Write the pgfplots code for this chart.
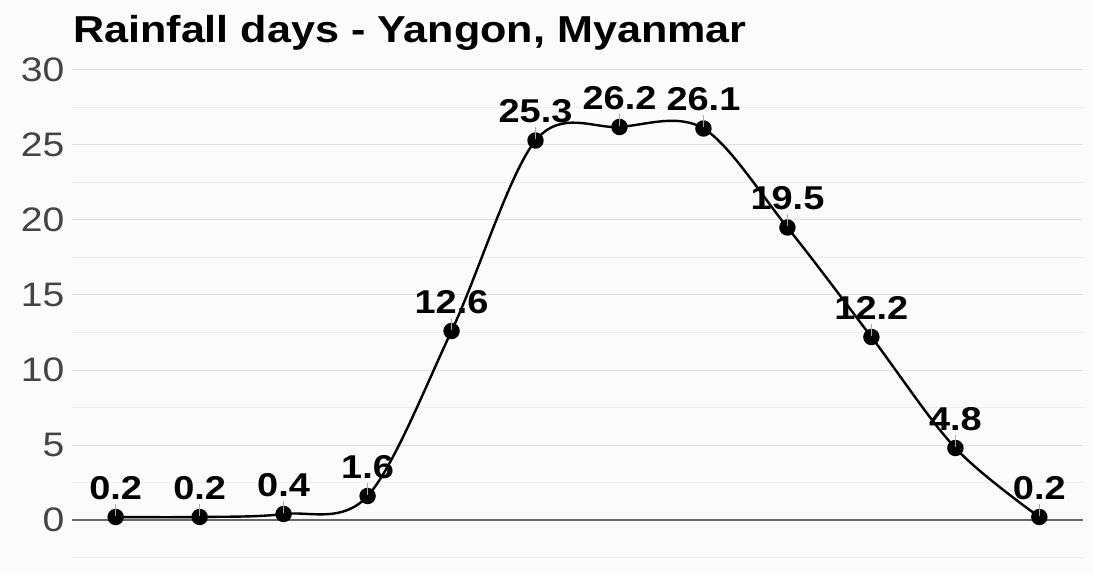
\documentclass[border=0pt]{standalone}
\usepackage{pgfplots}
\pgfplotsset{compat=1.18}
\usepackage{fontspec}
\setmainfont{Liberation Sans}[FakeStretch=1.15]
\definecolor{bgcol}{HTML}{FBFBFB}
\definecolor{majgrid}{HTML}{E2E2E2}
\definecolor{mingrid}{HTML}{EEEEEE}
\definecolor{ticklab}{HTML}{444444}
\definecolor{zeroline}{HTML}{666666}
\definecolor{pointer}{HTML}{AAAAAA}
\begin{document}
\begin{tikzpicture}[x=1pt,y=1pt]
\fill[bgcol] (0,0) rectangle (1093,574);
\node[anchor=base west,inner sep=0pt] at (73,531) {\fontsize{37.5}{37.5}\selectfont\bfseries Rainfall days - Yangon, Myanmar};
\begin{axis}[
  at={(72pt,16.5pt)}, anchor=south west,
  scale only axis, width=1011pt, height=487.5pt,
  xmin=-0.52, xmax=11.52, ymin=-2.5, ymax=30,
  axis line style={draw=none},
  xtick=\empty,
  ytick={0,5,...,30},
  minor ytick={-2.5,2.5,7.5,12.5,17.5,22.5,27.5},
  major tick length=0pt, minor tick length=0pt,
  grid=both,
  major grid style={majgrid, line width=1pt},
  minor grid style={mingrid, line width=1pt},
  /pgf/number format/assume math mode=true,
  yticklabel style={font=\fontsize{34}{34}\selectfont, text=ticklab, xshift=-4pt},
  clip=false,
]
\draw[zeroline, line width=1.3pt] (axis cs:-0.52,0) -- (axis cs:11.52,0);
\addplot[black, line width=2.4pt, smooth, tension=0.55,
  mark=*, mark size=7pt, mark options={fill=black},
  nodes near coords={\shortstack{\pgfmathprintnumber[fixed,precision=1,fixed zerofill]{\pgfplotspointmeta}\\[1pt]\textcolor{pointer}{\rule{0.9pt}{12pt}}}},
  every node near coord/.append style={font=\fontsize{33}{33}\selectfont\bfseries, text=black, anchor=south, yshift=0pt, inner sep=0pt},
] coordinates {
(0,0.2) (1,0.2) (2,0.4) (3,1.6) (4,12.6) (5,25.3) (6,26.2) (7,26.1) (8,19.5) (9,12.2) (10,4.8) (11,0.2)
};
\end{axis}
\end{tikzpicture}
\end{document}
